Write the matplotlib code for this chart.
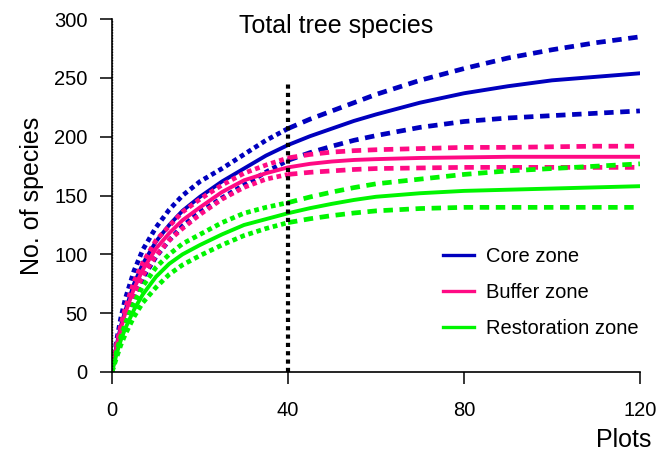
import numpy as np
import matplotlib
matplotlib.use('Agg')
import matplotlib.pyplot as plt

plt.rcParams['font.family'] = ['Liberation Sans', 'DejaVu Sans']

# number of plots sampled
plots = [0, 1, 2, 3, 5, 7, 10, 13, 16, 20, 25, 30, 35, 40,
         45, 50, 55, 60, 70, 80, 90, 100, 110, 120]

core_mean  = [0, 22, 39, 52, 75, 92, 111, 125, 137, 149, 162, 173, 184, 193,
              200.5, 207, 213.5, 219, 229, 237, 243, 248, 251, 254]
core_upper = [0, 26, 46, 62, 86, 104, 123, 138, 150, 162, 173, 185, 197, 207,
              215, 222, 229, 236, 248, 258, 267, 274, 280, 285]
core_lower = [0, 19, 33, 44, 64, 80, 98, 112, 124, 136, 148, 159, 170, 180,
              186.5, 192, 197, 201, 208, 213, 216, 218, 220, 222]

buffer_mean  = [0, 21, 37, 50, 71, 87, 105, 118, 129, 140, 153, 163, 169, 174,
                177, 179, 180.3, 181, 182, 182.5, 183, 183, 183, 183]
buffer_upper = [0, 23, 40, 54, 77, 93, 112, 124, 136, 147, 159, 169, 176, 182,
                185, 187, 188.2, 189, 190, 191, 191, 191.5, 192, 192]
buffer_lower = [0, 19, 34, 46, 66, 82, 99, 112, 122, 134, 147, 157, 164, 168,
                169.8, 171, 172.2, 173, 173.5, 174, 174, 174, 174, 174]

rest_mean  = [0, 15, 27, 37, 53, 66, 81, 92, 100, 108, 117, 125, 130, 135,
              139.3, 143, 146.3, 149, 152, 154, 155, 156, 157, 158]
rest_upper = [0, 17, 30, 41, 59, 73, 89, 100, 109, 117, 127, 135, 140, 144,
              148.8, 153, 156.8, 160, 164, 168, 171, 173, 175, 177]
rest_lower = [0, 12, 23, 32, 47, 59, 72, 83, 91, 99, 108, 116, 122, 127,
              130.3, 133, 135.2, 137, 139, 140, 140, 140, 140, 140]

zones = ['Core zone', 'Buffer zone', 'Restoration zone']
colors = ['#0000BE', '#FF0A84', '#00F500']
sample_size = 40

fig = plt.figure(figsize=(6.59, 4.57), dpi=100)
ax = fig.add_axes([0.170, 0.186, 0.801, 0.772])

x = np.array(plots)
interp = x <= sample_size
extrap = x >= sample_size

series = [(core_mean, core_upper, core_lower),
          (buffer_mean, buffer_upper, buffer_lower),
          (rest_mean, rest_upper, rest_lower)]

for (m, up, lo), name, c in zip(series, zones, colors):
    for b in (up, lo):
        b = np.array(b)
        ax.plot(x[interp], b[interp], color=c, lw=3.4, linestyle=(0, (1, 0.8)),
                solid_capstyle='butt', dash_capstyle='butt')
        ax.plot(x[extrap], b[extrap], color=c, lw=3.4, linestyle=(0, (2, 1.4)),
                dash_capstyle='butt')
    ax.plot(x, m, color=c, lw=2.8, label=name)

# reference sample size
ax.vlines(sample_size, 0, 245, colors='black', lw=3, linestyles=(0, (1, 1)))
ax.vlines(0, 0, 300, colors='black', lw=1, linestyles=(0, (1, 1)))

ax.set_xlim(0, 120)
ax.set_ylim(0, 300)
ax.set_xticks([0, 40, 80, 120])
ax.set_yticks(range(0, 301, 50))
ax.spines['top'].set_visible(False)
ax.spines['right'].set_visible(False)
for s in ('left', 'bottom'):
    ax.spines[s].set_linewidth(1.2)
ax.tick_params(axis='both', direction='out', length=8.6, width=1.1,
               labelsize=14.5)
ax.tick_params(axis='x', pad=12)
ax.tick_params(axis='y', pad=9)

ax.set_ylabel('No. of species', fontsize=18)
ax.yaxis.set_label_coords(-0.128, 0.5)
ax.set_xlabel('Plots', fontsize=18, loc='right')
ax.xaxis.set_label_coords(1.021, -0.16)

ax.text(0.424, 0.980, 'Total tree species', transform=ax.transAxes,
        ha='center', va='center', fontsize=18)

leg = ax.legend(loc='center left', bbox_to_anchor=(0.593, 0.226), frameon=False,
                fontsize=14.5, handlelength=1.55, handletextpad=0.6,
                labelspacing=0.85)
for h in leg.get_lines():
    h.set_linewidth(2.4)

fig.savefig('out.png', dpi=100)
